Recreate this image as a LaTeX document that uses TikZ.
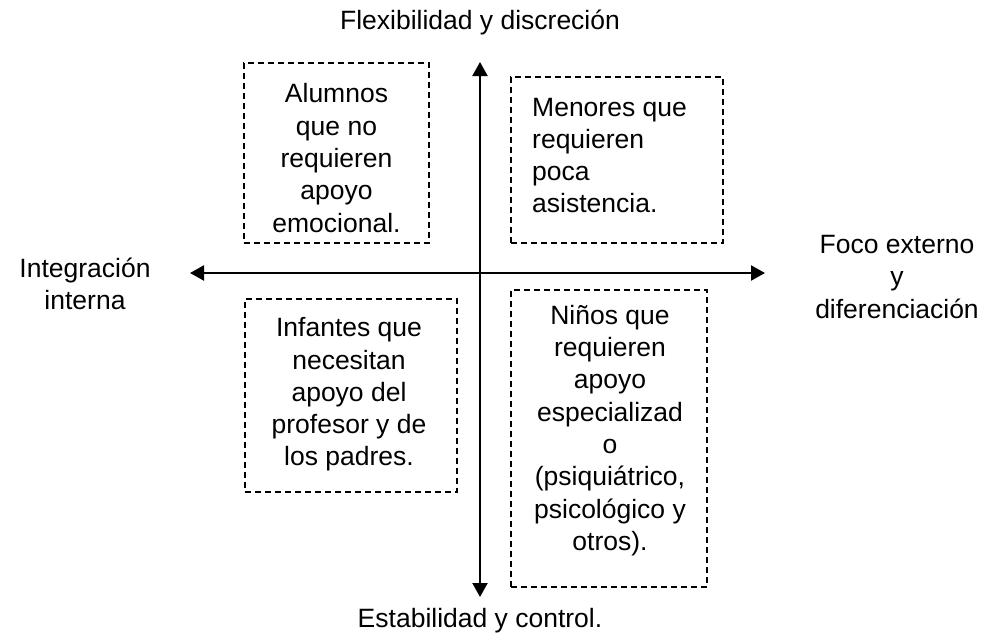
\documentclass[tikz,border=0pt]{standalone}
\usepackage{fontspec}
\setmainfont{Liberation Sans}
\usetikzlibrary{arrows.meta}
\begin{document}
\begin{tikzpicture}[x=1pt,y=-1pt,
  every node/.style={font=\fontsize{26.5}{32.3}\selectfont},
  qbox/.style={draw, line width=1.3pt, dash pattern=on 6pt off 4pt, inner sep=0pt},
  qtext/.style={inner sep=0pt, align=center},
  axis/.style={line width=2.2pt, {Triangle[length=14pt,width=15pt]}-{Triangle[length=14pt,width=15pt]}},
  lab/.style={align=center}]
\useasboundingbox (0,0) rectangle (996,643);
% boxes
\node[qbox, minimum width=185pt, minimum height=180pt] (b1) at (336.5,153) {};
\node[qbox, minimum width=212pt, minimum height=166pt] (b2) at (617,160) {};
\node[qbox, minimum width=212pt, minimum height=193pt] (b3) at (351,395.5) {};
\node[qbox, minimum width=196pt, minimum height=297pt] (b4) at (609,438.5) {};
% box texts
\node[qtext] (t1) at (336.5,158) {Alumnos\\que no\\requieren\\apoyo\\emocional.};
\node[qtext, align=left, anchor=west] (t2) at (532,155.5) {Menores que\\requieren\\poca\\asistencia.};
\node[qtext] (t3) at (349,394.5) {Infantes que\\necesitan\\apoyo del\\profesor y de\\los padres.};
\node[qtext] (t4) at (610,430.5) {Niños que\\requieren\\apoyo\\especializad\\o\\(psiquiátrico,\\psicológico y\\otros).};
% axes
\coordinate (L) at (190,273);
\coordinate (R) at (765,273);
\coordinate (T) at (480,62);
\coordinate (B) at (480,597);
\draw[axis] (L) -- (R);
\draw[axis] (B) -- (T);
% labels
\node[lab] (top) at (480,22) {Flexibilidad y discreción};
\node[lab] (bot) at (480,621) {Estabilidad y control.};
\node[lab] (lft) at (85,284) {Integración\\interna};
\node[lab] (rgt) at (897,277) {Foco externo\\y\\diferenciación};
\end{tikzpicture}
\end{document}
